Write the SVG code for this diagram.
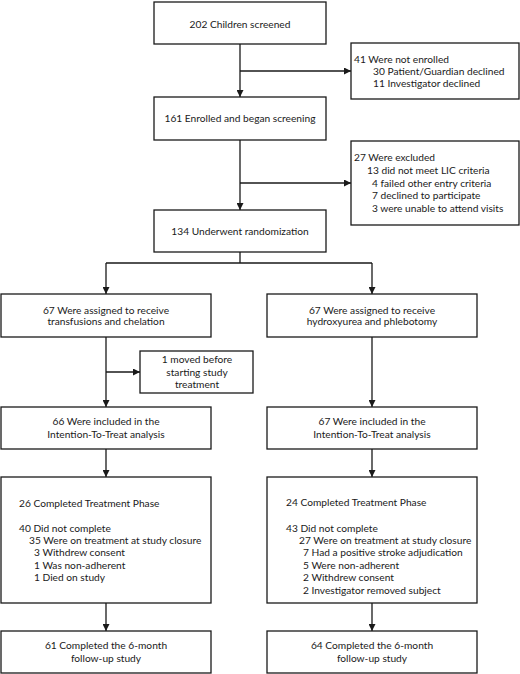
<svg xmlns="http://www.w3.org/2000/svg" width="520" height="674" viewBox="0 0 520 674">
<defs>
<marker id="ah" viewBox="0 0 10 10" refX="10" refY="5" markerWidth="7" markerHeight="7" markerUnits="userSpaceOnUse" orient="auto">
<path d="M0,0 L10,5 L0,10 z" fill="#1a1a1a"/>
</marker>
<style>
rect{fill:#fff;stroke:#1a1a1a;stroke-width:1.3}
text{font-family:Lato,"Open Sans","Liberation Sans",sans-serif;font-size:10.2px;fill:#1a1a1a;dominant-baseline:central}
.c{text-anchor:middle}
#connectors path{fill:none;stroke:#1a1a1a;stroke-width:1.3}
.a{marker-end:url(#ah)}
</style>
</defs>
<rect x="0" y="0" width="520" height="674" style="fill:#fff;stroke:none"/>
<g id="connectors">
<path class="a" d="M240,44 V97"/>
<path class="a" d="M240,71 H351"/>
<path class="a" d="M240,140 V210"/>
<path class="a" d="M240,183 H351"/>
<path d="M240,252 V263 M106,263 H372"/>
<path class="a" d="M106,263 V294"/>
<path class="a" d="M372,263 V294"/>
<path class="a" d="M106,337 V407"/>
<path class="a" d="M106,372 H140"/>
<path class="a" d="M372,337 V407"/>
<path class="a" d="M106,449 V477"/>
<path class="a" d="M372,449 V477"/>
<path class="a" d="M106,603 V631"/>
<path class="a" d="M372,603 V631"/>
</g>
<g id="screened"><rect x="154" y="2" width="172" height="42"/><text class="c" x="240" y="24">202 Children screened</text></g>
<g id="not-enrolled"><rect x="351" y="43" width="168" height="56"/>
<text x="354" y="59">41 Were not enrolled</text>
<text x="373" y="71">30 Patient/Guardian declined</text>
<text x="373" y="83">11 Investigator declined</text></g>
<g id="enrolled"><rect x="154" y="97" width="172" height="43"/><text class="c" x="240" y="118">161 Enrolled and began screening</text></g>
<g id="excluded"><rect x="351" y="141" width="168" height="84"/>
<text x="354" y="157">27 Were excluded</text>
<text x="367" y="170">13 did not meet LIC criteria</text>
<text x="372" y="183">4 failed other entry criteria</text>
<text x="372" y="195">7 declined to participate</text>
<text x="372" y="208">3 were unable to attend visits</text></g>
<g id="randomized"><rect x="154" y="210" width="172" height="42"/><text class="c" x="240" y="231">134 Underwent randomization</text></g>
<g id="assigned-tc"><rect x="1" y="294" width="210" height="43"/>
<text class="c" x="106" y="310">67 Were assigned to receive</text>
<text class="c" x="106" y="321">transfusions and chelation</text></g>
<g id="assigned-hp"><rect x="267" y="294" width="210" height="43"/>
<text class="c" x="372" y="310">67 Were assigned to receive</text>
<text class="c" x="372" y="321">hydroxyurea and phlebotomy</text></g>
<g id="moved"><rect x="140" y="351" width="113" height="42"/>
<text class="c" x="197" y="359">1 moved before</text>
<text class="c" x="197" y="372">starting study</text>
<text class="c" x="197" y="384">treatment</text></g>
<g id="itt-tc"><rect x="1" y="407" width="210" height="42"/>
<text class="c" x="106" y="421">66 Were included in the</text>
<text class="c" x="106" y="434">Intention-To-Treat analysis</text></g>
<g id="itt-hp"><rect x="267" y="407" width="210" height="42"/>
<text class="c" x="372" y="421">67 Were included in the</text>
<text class="c" x="372" y="434">Intention-To-Treat analysis</text></g>
<g id="treat-tc"><rect x="1" y="477" width="210" height="126"/>
<text x="19" y="503">26 Completed Treatment Phase</text>
<text x="19" y="528">40 Did not complete</text>
<text x="29" y="540">35 Were on treatment at study closure</text>
<text x="34" y="552">3 Withdrew consent</text>
<text x="34" y="565">1 Was non-adherent</text>
<text x="34" y="577">1 Died on study</text></g>
<g id="treat-hp"><rect x="267" y="477" width="210" height="126"/>
<text x="286" y="502">24 Completed Treatment Phase</text>
<text x="286" y="528">43 Did not complete</text>
<text x="299" y="540">27 Were on treatment at study closure</text>
<text x="303" y="552">7 Had a positive stroke adjudication</text>
<text x="303" y="565">5 Were non-adherent</text>
<text x="303" y="577">2 Withdrew consent</text>
<text x="303" y="590">2 Investigator removed subject</text></g>
<g id="followup-tc"><rect x="1" y="631" width="210" height="42"/>
<text class="c" x="106" y="645">61 Completed the 6-month</text>
<text class="c" x="106" y="658">follow-up study</text></g>
<g id="followup-hp"><rect x="267" y="631" width="210" height="42"/>
<text class="c" x="372" y="645">64 Completed the 6-month</text>
<text class="c" x="372" y="658">follow-up study</text></g>
</svg>
